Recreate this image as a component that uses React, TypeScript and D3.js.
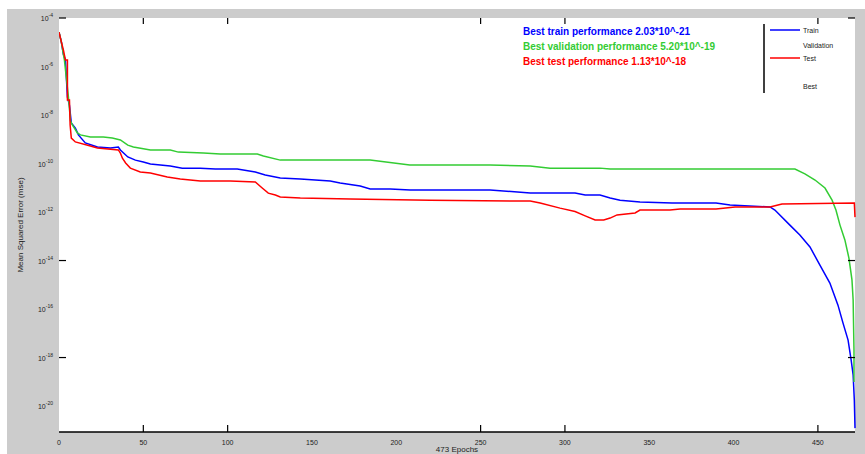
import React from "react";
import * as d3 from "d3";

// epoch / log10(mse) pairs
const trainEpochs = [0,1.4,2.6,3.8,5,6.2,7.3,9.7,11.5,15.6,22.8,30.5,35.2,36.4,40.8,45.3,50,54.2,66,73.1,83.8,92.7,105.7,116.4,122.3,131.2,143.1,160.8,166.7,178.6,184.5,196.4,208.2,255.6,279.4,306,312,320.8,326.8,332.7,344.5,363.5,389.6,397.9,421.6,424.5,433.4,439.3,445.3,451.2,457.1,461.9,464.9,467.9,469.7,470.9,471.6,472];
const trainLog = [-4.58,-4.99,-5.5,-5.73,-7.26,-7.6,-8.33,-8.54,-8.82,-9.15,-9.32,-9.36,-9.32,-9.44,-9.73,-9.86,-9.94,-10.02,-10.1,-10.19,-10.19,-10.23,-10.23,-10.35,-10.47,-10.6,-10.64,-10.72,-10.8,-10.93,-11.05,-11.05,-11.09,-11.09,-11.22,-11.22,-11.3,-11.3,-11.42,-11.51,-11.59,-11.63,-11.63,-11.71,-11.79,-11.92,-12.54,-12.95,-13.44,-14.19,-14.93,-15.84,-16.58,-17.28,-18.1,-18.72,-19.75,-20.91];

const valEpochs = [0,1.4,2.6,3.2,5.6,6.8,7.9,10.9,12.7,18.6,26.3,31.6,36.4,40.8,44.1,54.2,66,70.8,85.6,95.6,117.6,121.2,131.2,143.1,184.5,208,255.6,279.4,291.2,320.8,326.8,436.4,442.3,448.3,454.2,458.4,460.7,463.1,466,468.4,470.2,470.9,471.4,471.4];
const valLog = [-4.58,-4.99,-5.5,-5.73,-7.26,-8.24,-8.41,-8.74,-8.82,-8.91,-8.91,-8.95,-9.03,-9.24,-9.32,-9.44,-9.44,-9.53,-9.57,-9.61,-9.61,-9.69,-9.86,-9.86,-9.86,-10.06,-10.06,-10.1,-10.19,-10.19,-10.23,-10.23,-10.43,-10.68,-11.01,-11.51,-11.92,-12.54,-13.15,-13.9,-14.8,-15.63,-17.69,-19.01];

const testEpochs = [0,1.4,2.6,3.8,5,5,6.2,6.6,7.3,9.7,18.6,22.8,35.2,36.4,37.6,39.5,42.3,48.2,54.2,64.2,71.9,83.8,101.6,116.4,120.5,124.1,128.3,131.2,143.1,172.7,220.1,279.4,285.3,297.1,306,312,317.9,323,326.8,330.9,341.6,344.5,362.3,368.3,389.6,400.9,421.6,428.7,471.6,472];
const testLog = [-4.58,-4.99,-5.32,-5.73,-5.73,-7.38,-7.38,-8.41,-8.95,-9.11,-9.28,-9.36,-9.44,-9.57,-9.78,-9.98,-10.19,-10.35,-10.39,-10.56,-10.64,-10.72,-10.72,-10.76,-11.01,-11.22,-11.3,-11.38,-11.42,-11.46,-11.51,-11.55,-11.63,-11.84,-11.98,-12.16,-12.33,-12.33,-12.25,-12.12,-12.04,-11.92,-11.92,-11.88,-11.88,-11.79,-11.79,-11.67,-11.63,-12.21];

const xTickValues = [0,50,100,150,200,250,300,350,400,450];
const xTickMarks = [50,100,250,300,450];
const yTickExponents = [-4,-6,-8,-10,-12,-14,-16,-18,-20];
const yTickMarkExponents = [-4,-14,-18];

const infoLines = [
  { text: "Best train performance 2.03*10^-21", color: "#0000ff" },
  { text: "Best validation performance 5.20*10^-19", color: "#33cc33" },
  { text: "Best test performance 1.13*10^-18", color: "#ff0000" },
];
const legendItems = [
  { label: "Train", color: "#0000ff", line: true },
  { label: "Validation", color: "#33cc33", line: false },
  { label: "Test", color: "#ff0000", line: true },
  { label: "Best", color: "#000", line: false },
];

export default function App() {
  const W = 865, H = 454;
  const L = 59, R = 855, T = 18, B = 432;
  const x = d3.scaleLinear().domain([0, 472]).range([L, R]);
  const y = d3.scaleLog().domain([Math.pow(10, -21.07), 1e-4]).range([B, T]);
  const mk = (ep: number[], lg: number[]) => ep.map((e, i) => [e, Math.pow(10, lg[i])] as [number, number]);
  const line = d3.line<[number, number]>().x(d => x(d[0])).y(d => y(Math.max(d[1], 1e-22)));
  const series = [
    { d: mk(trainEpochs, trainLog), c: "#0000ff" },
    { d: mk(valEpochs, valLog), c: "#33cc33" },
    { d: mk(testEpochs, testLog), c: "#ff0000" },
  ];
  const tickFont = "Liberation Sans, Arial, sans-serif";
  return (
    <svg width={W} height={H} style={{ position: "absolute", left: 0, top: 0, display: "block" }}>
      <rect x={0} y={0} width={W} height={H} fill="#ffffff" />
      <rect x={7} y={9} width={W - 7} height={H - 9} fill="#cccccc" />
      <rect x={L} y={T} width={R - L} height={B - T} fill="#ffffff" />
      <defs>
        <clipPath id="plotclip"><rect x={L} y={T} width={R - L + 1} height={B - T} /></clipPath>
      </defs>
      <g clipPath="url(#plotclip)">
        {series.map((s, i) => (
          <path key={i} d={line(s.d) || ""} fill="none" stroke={s.c} strokeWidth={1.5} />
        ))}
      </g>
      {/* axes */}
      <line x1={L} x2={R} y1={B} y2={B} stroke="#000" strokeWidth={1.5} />
      {xTickMarks.map(t => (
        <g key={"xt" + t}>
          <line x1={x(t)} x2={x(t)} y1={B} y2={B - 7} stroke="#000" strokeWidth={1.2} />
          <line x1={x(t)} x2={x(t)} y1={T} y2={T + 6} stroke="#000" strokeWidth={1.2} />
        </g>
      ))}
      {yTickMarkExponents.map(e => (
        <g key={"yt" + e}>
          <line x1={L} x2={L + 7} y1={y(Math.pow(10, e))} y2={y(Math.pow(10, e))} stroke="#000" strokeWidth={1.2} />
          <line x1={R - 7} x2={R} y1={y(Math.pow(10, e))} y2={y(Math.pow(10, e))} stroke="#000" strokeWidth={1.2} />
        </g>
      ))}
      {xTickValues.map(t => (
        <text key={"xl" + t} x={x(t)} y={445} fontSize={7} fontFamily={tickFont} textAnchor="middle" fill="#222">{t}</text>
      ))}
      {yTickExponents.map(e => (
        <text key={"yl" + e} x={53} y={y(Math.pow(10, e)) + 3} fontSize={7} fontFamily={tickFont} textAnchor="end" fill="#222">
          10<tspan dy={-4} fontSize={5}>{e}</tspan>
        </text>
      ))}
      <text x={457} y={452} fontSize={8} fontFamily={tickFont} textAnchor="middle" fill="#222">473 Epochs</text>
      <text transform={`translate(23,${225}) rotate(-90)`} fontSize={8} fontFamily={tickFont} textAnchor="middle" fill="#222">Mean Squared Error  (mse)</text>
      {/* info text */}
      {infoLines.map((l, i) => (
        <text key={"il" + i} x={523} y={35 + i * 15} fontSize={10} fontWeight="bold" fontFamily={tickFont} fill={l.color}>{l.text}</text>
      ))}
      {/* legend */}
      <line x1={764} x2={764} y1={24} y2={93} stroke="#000" strokeWidth={1.5} />
      {legendItems.map((it, i) => {
        const yy = [30, 45, 58, 86][i];
        return (
          <g key={"lg" + i}>
            {it.line && <line x1={770} x2={800} y1={yy} y2={yy} stroke={it.color} strokeWidth={1.5} />}
            <text x={803} y={yy + 2.5} fontSize={7} fontFamily={tickFont} fill="#222">{it.label}</text>
          </g>
        );
      })}
    </svg>
  );
}
